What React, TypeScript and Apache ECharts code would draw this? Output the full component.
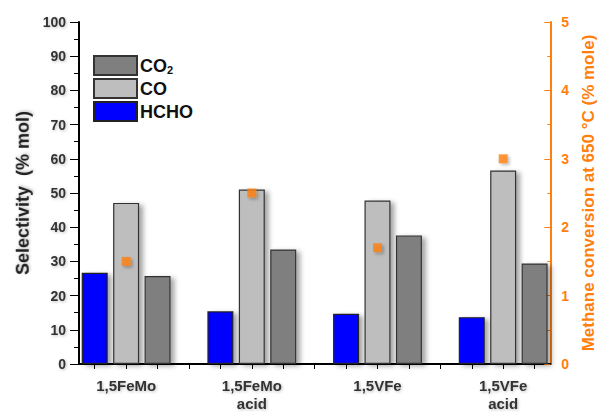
import React, { useEffect, useRef } from "react";
import * as echarts from "echarts";

const groups = ["1,5FeMo", "1,5FeMo\nacid", "1,5VFe", "1,5VFe\nacid"];
const hcho = [26.7, 15.4, 14.7, 13.7];
const co = [47.1, 51.0, 47.8, 56.6];
const co2 = [25.7, 33.5, 37.6, 29.4];
const conversion = [1.5, 2.5, 1.7, 3.0];
const leftTicks = [0, 10, 20, 30, 40, 50, 60, 70, 80, 90, 100];
const rightTicks = [0, 1, 2, 3, 4, 5];

// each group occupies 3 bar slots + 1 empty slot (last group no trailing gap)
const SLOTS_PER_GROUP = 4;
const slotCount = groups.length * SLOTS_PER_GROUP - 1;

function slotNames(): string[] {
  const arr: string[] = [];
  for (let i = 0; i < slotCount; i++) {
    const g = Math.floor(i / SLOTS_PER_GROUP);
    arr.push(i % SLOTS_PER_GROUP === 1 ? groups[g] : "");
  }
  return arr;
}

function slotData(values: number[], offset: number): (number | null)[] {
  const arr: (number | null)[] = new Array(slotCount).fill(null);
  values.forEach((v, g) => {
    arr[g * SLOTS_PER_GROUP + offset] = v;
  });
  return arr;
}

const ORANGE = "#FF7F0E";

export default function App() {
  const ref = useRef<HTMLDivElement>(null);
  useEffect(() => {
    if (!ref.current) return;
    const chart = echarts.init(ref.current, undefined, { renderer: "svg" });
    const barShadow = {
      shadowColor: "rgba(0,0,0,0.35)",
      shadowBlur: 5,
      shadowOffsetX: 4,
      shadowOffsetY: 2,
    };
    const textShadow = {
      textShadowColor: "rgba(0,0,0,0.25)",
      textShadowBlur: 3,
      textShadowOffsetX: 1,
      textShadowOffsetY: 1,
    };
    chart.setOption({
      animation: false,
      backgroundColor: "#ffffff",
      grid: { left: 79, right: 50, top: 22, bottom: 46 },
      legend: {
        data: ["CO2", "CO", "HCHO"],
        orient: "vertical",
        left: 93,
        top: 55,
        padding: 0,
        itemWidth: 43,
        itemHeight: 19,
        itemGap: 2,
        icon: "rect",
        selectedMode: false,
        formatter: (name: string) => (name === "CO2" ? "CO{s|2}" : name),
        textStyle: {
          fontSize: 18,
          fontWeight: "bold",
          color: "#111",
          fontFamily: "Liberation Sans",
          padding: [0, 0, 0, -2],
          rich: {
            s: {
              fontSize: 11,
              fontWeight: "bold",
              color: "#111",
              fontFamily: "Liberation Sans",
              verticalAlign: "bottom",
              padding: [8, 0, 0, 0],
            },
          },
        },
      },
      xAxis: {
        type: "category",
        data: slotNames(),
        axisLine: { lineStyle: { color: "#000", width: 2 } },
        axisTick: {
          show: true,
          alignWithLabel: true,
          interval: 0,
          length: 5,
          lineStyle: { color: "#000", width: 1 },
        },
        axisLabel: {
          interval: 0,
          fontSize: 15,
          fontWeight: "bold",
          color: "#333",
          fontFamily: "Liberation Sans",
          margin: 12,
          lineHeight: 18,
          ...textShadow,
        },
        splitLine: { show: false },
      },
      yAxis: [
        {
          type: "value",
          min: leftTicks[0],
          max: leftTicks[leftTicks.length - 1],
          interval: leftTicks[1] - leftTicks[0],
          name: "Selectivity  (% mol)",
          nameLocation: "middle",
          nameGap: 46,
          nameTextStyle: {
            fontSize: 18,
            fontWeight: "bold",
            color: "#222",
            fontFamily: "Liberation Sans",
            ...textShadow,
          },
          axisLine: { show: true, lineStyle: { color: "#000", width: 2 } },
          axisTick: { show: true, length: 9, lineStyle: { color: "#000", width: 1 } },
          minorTick: { show: true, splitNumber: 2, length: 5, lineStyle: { color: "#000", width: 1 } },
          axisLabel: {
            fontSize: 14,
            fontWeight: "bold",
            color: "#333",
            fontFamily: "Liberation Sans",
            margin: 13,
            ...textShadow,
          },
          splitLine: { show: false },
        },
        {
          type: "value",
          position: "right",
          min: rightTicks[0],
          max: rightTicks[rightTicks.length - 1],
          interval: rightTicks[1] - rightTicks[0],
          name: "Methane conversion at 650 °C (% mole)",
          nameLocation: "middle",
          nameGap: 26,
          nameTextStyle: {
            fontSize: 17,
            fontWeight: "bold",
            color: ORANGE,
            fontFamily: "Liberation Sans",
          },
          axisLine: { show: true, lineStyle: { color: ORANGE, width: 2 } },
          axisTick: { show: true, inside: true, length: 6, lineStyle: { color: ORANGE, width: 1 } },
          minorTick: { show: true, splitNumber: 2, length: 3, lineStyle: { color: ORANGE, width: 1 } },
          axisLabel: {
            fontSize: 14,
            fontWeight: "bold",
            color: ORANGE,
            fontFamily: "Liberation Sans",
            margin: 11,
          },
          splitLine: { show: false },
        },
      ],
      series: [
        {
          name: "HCHO",
          type: "bar",
          data: slotData(hcho, 0),
          barWidth: 26,
          barGap: "-100%",
          itemStyle: { color: "#0000FF", borderColor: "#222", borderWidth: 1.2, ...barShadow },
        },
        {
          name: "CO",
          type: "bar",
          data: slotData(co, 1),
          barWidth: 26,
          barGap: "-100%",
          itemStyle: { color: "#BEBEBE", borderColor: "#333", borderWidth: 1.2, ...barShadow },
        },
        {
          name: "CO2",
          type: "bar",
          data: slotData(co2, 2),
          barWidth: 26,
          barGap: "-100%",
          itemStyle: { color: "#7F7F7F", borderColor: "#333", borderWidth: 1.2, ...barShadow },
        },
        {
          name: "Conversion",
          type: "scatter",
          yAxisIndex: 1,
          data: slotData(conversion, 1),
          symbol: "rect",
          symbolSize: 9,
          z: 5,
          itemStyle: { color: ORANGE, shadowColor: "rgba(0,0,0,0.3)", shadowBlur: 3, shadowOffsetX: 2, shadowOffsetY: 2 },
        },
      ],
    });
    return () => chart.dispose();
  }, []);
  return (
    <div
      ref={ref}
      style={{ position: "absolute", left: 0, top: 0, width: 605, height: 412 }}
    />
  );
}
